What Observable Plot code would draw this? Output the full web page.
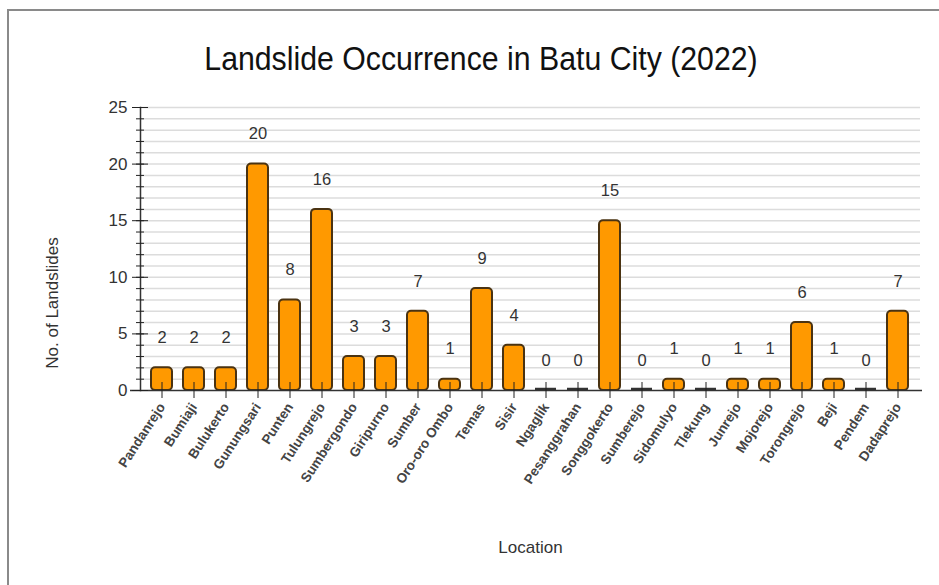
<!DOCTYPE html>
<html><head><meta charset="utf-8">
<script src="https://cdn.jsdelivr.net/npm/d3@7"></script>
<script src="https://cdn.jsdelivr.net/npm/@observablehq/plot@0.6"></script>
<style>
body{margin:0;background:#fff;font-family:"Liberation Sans",Arial,sans-serif}
#wrap{position:relative;width:939px;height:585px;overflow:hidden;background:#fff}
#frame{position:absolute;left:7px;top:9px;width:1000px;height:1000px;border-left:2px solid #8a8a8a;border-top:2px solid #8a8a8a}
#title{position:absolute;top:38px;left:0;width:962px;text-align:center;font-size:34px;line-height:40px;color:#111;margin:0;font-weight:normal;font-family:"Liberation Sans",Arial,sans-serif;transform:scaleX(0.89);transform-origin:481px 0}
#chart{position:absolute;top:90px;left:0}
</style></head>
<body>
<div id="wrap">
  <div id="frame"></div>
  <h2 id="title">Landslide Occurrence in Batu City (2022)</h2>
  <div id="chart"></div>
</div>
<script>
const locations = ["Pandanrejo","Bumiaji","Bulukerto","Gunungsari","Punten","Tulungrejo","Sumbergondo","Giripurno","Sumber","Oro-oro Ombo","Temas","Sisir","Ngaglik","Pesanggrahan","Songgokerto","Sumberejo","Sidomulyo","Tlekung","Junrejo","Mojorejo","Torongrejo","Beji","Pendem","Dadaprejo"];
const counts = [2,2,2,20,8,16,3,3,7,1,9,4,0,0,15,0,1,0,1,1,6,1,0,7];
const majorTicks = [0,5,10,15,20,25];
const minorTicks = d3.range(0,26);
const gridLines = d3.range(1,26);
const yLabel = "No. of Landslides";
const xLabel = "Location";

const data = locations.map((loc,i)=>({loc, n: counts[i]}));

const chart = Plot.plot({
  width: 939,
  height: 495,
  marginTop: 17,
  marginBottom: 195,
  marginLeft: 140,
  marginRight: 19,
  style: {fontFamily: "'Liberation Sans', Arial, sans-serif", background: "transparent"},
  x: {domain: locations, padding: 0.34},
  y: {domain: [0,25]},
  marks: [
    Plot.gridY(gridLines, {stroke: "#dcdcdc", strokeOpacity: 1, strokeWidth: 1.5}),
    Plot.barY(data.filter(d => d.n > 0), {x: "loc", y: "n", fill: "#FF9900", stroke: "#4a3312", strokeWidth: 2, rx: 4}),
    Plot.tickY(data.filter(d => d.n === 0), {x: "loc", y: "n", dy: -1.5, stroke: "#333", strokeWidth: 2.5}),
    Plot.frame({anchor: "left", stroke: "#333", strokeWidth: 1.5}),
    Plot.ruleY([0], {stroke: "#333", strokeWidth: 1.5, insetLeft: -10, insetRight: -2}),
    Plot.axisY(majorTicks, {tickSize: 8, tickPadding: 5, fontSize: 17, fill: "#333", stroke: "#222", label: null}),
    Plot.axisY(majorTicks, {tickSize: 8, dx: 8, text: null, stroke: "#222", label: null}),
    Plot.axisY(minorTicks, {tickSize: 4, text: null, stroke: "#222", label: null}),
    Plot.axisY(minorTicks, {tickSize: 4, dx: 4, text: null, stroke: "#222", label: null}),
    Plot.axisX({tickSize: 8, tickPadding: 6, tickRotate: -57, fontSize: 13.5, fontWeight: "bold", fill: "#444", stroke: "#222", label: null}),
    Plot.axisX({tickSize: 8, dy: -8, text: null, stroke: "#222", label: null}),
    Plot.text(data, {x: "loc", y: "n", text: d => String(d.n), dy: -30, fontSize: 16.5, fill: "#333"}),
    Plot.text([xLabel], {frameAnchor: "bottom", textAnchor: "middle", dy: 162, fontSize: 17, fill: "#333"}),
    Plot.text([yLabel], {frameAnchor: "left", textAnchor: "middle", rotate: -90, dx: -88, dy: 54, fontSize: 17, fill: "#333"})
  ]
});
document.getElementById("chart").appendChild(chart);
</script>
</body></html>
